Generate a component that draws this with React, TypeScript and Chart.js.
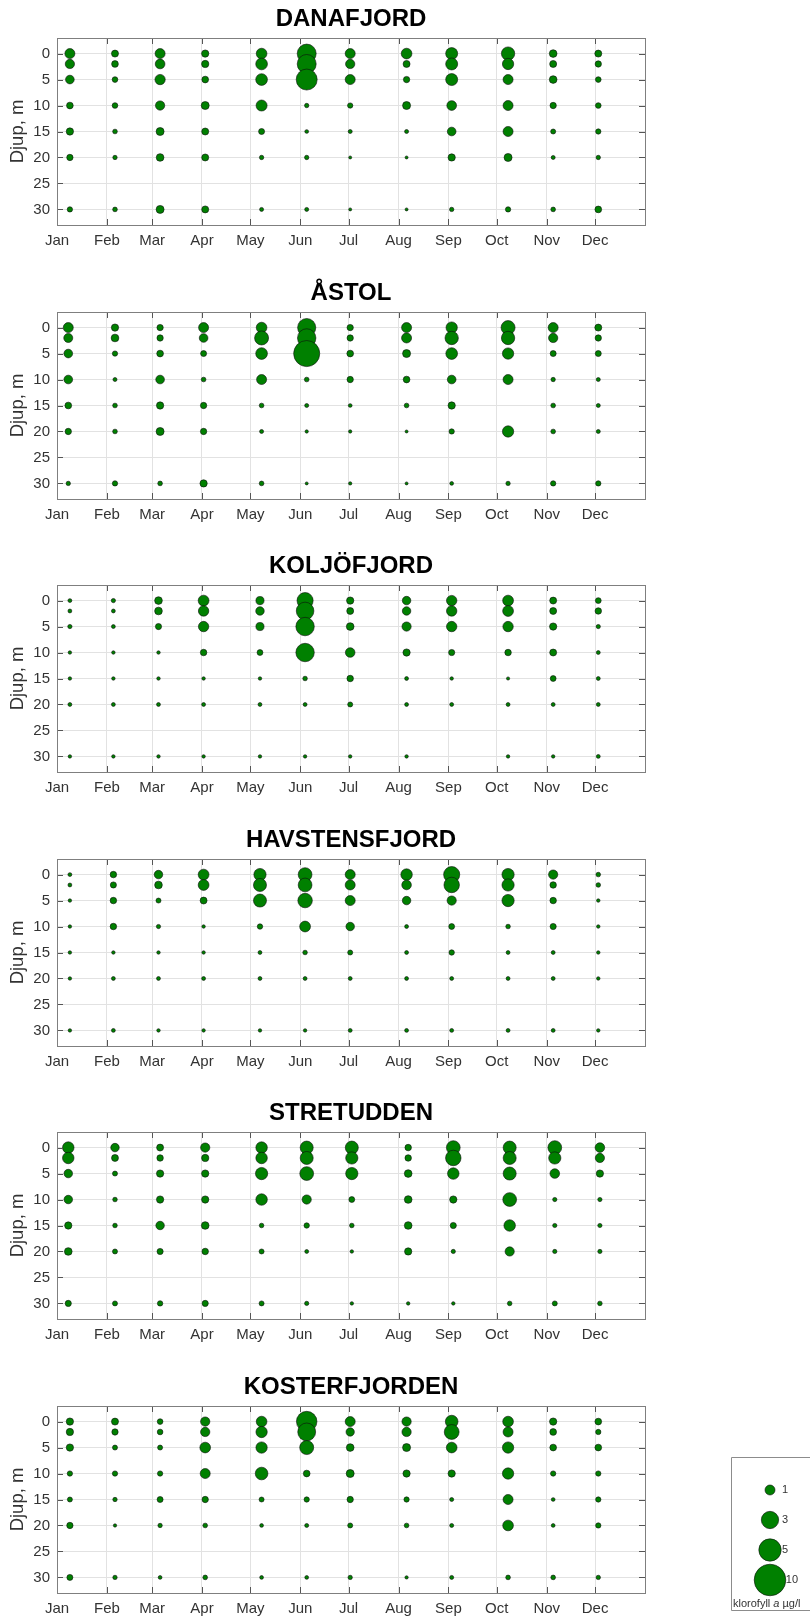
import React, { useEffect, useRef } from "react";
import { Chart, registerables } from "chart.js";

Chart.register(...registerables);

const FONT = '"Liberation Sans", Arial, Helvetica, sans-serif';
Chart.defaults.font.family = FONT;

// ---------- data ----------
const months = ["Jan", "Feb", "Mar", "Apr", "May", "Jun", "Jul", "Aug", "Sep", "Oct", "Nov", "Dec"];
const monthStartDays = [0, 31, 59, 90, 120, 151, 181, 212, 243, 273, 304, 334];
const depths = [0, 2, 5, 10, 15, 20, 30];
const depthTicks = [0, 5, 10, 15, 20, 25, 30];
const legendValues = [1, 3, 5, 10];

const stationNames = ["DANAFJORD", "ÅSTOL", "KOLJÖFJORD", "HAVSTENSFJORD", "STRETUDDEN", "KOSTERFJORDEN"];

// sampling day (days after 1 Jan) for each monthly visit
const danafjordDays = [8, 36, 64, 92, 127, 155, 182, 217, 245, 280, 308, 336];
const astolDays = [7, 36, 64, 91, 127, 155, 182, 217, 245, 280, 308, 336];
const koljofjordDays = [8, 35, 63, 91, 126, 154, 182, 217, 245, 280, 308, 336];
const havstensfjordDays = [8, 35, 63, 91, 126, 154, 182, 217, 245, 280, 308, 336];
const stretuddenDays = [7, 36, 64, 92, 127, 155, 183, 218, 246, 281, 309, 337];
const kosterfjordenDays = [8, 36, 64, 92, 127, 155, 182, 217, 245, 280, 308, 336];

// chlorophyll a (µg/l); one row per month, columns = depths 0,2,5,10,15,20,30 m
const danafjordChl = [
  [1.0, 0.86, 0.75, 0.45, 0.53, 0.4, 0.28],
  [0.49, 0.45, 0.32, 0.32, 0.22, 0.19, 0.22],
  [1.0, 0.94, 1.06, 0.86, 0.64, 0.59, 0.64],
  [0.53, 0.53, 0.45, 0.64, 0.49, 0.49, 0.49],
  [1.14, 1.37, 1.37, 1.21, 0.36, 0.19, 0.16],
  [3.6, 3.6, 4.4, 0.19, 0.14, 0.19, 0.16],
  [1.0, 0.86, 1.0, 0.28, 0.16, 0.09, 0.09],
  [1.14, 0.49, 0.4, 0.64, 0.16, 0.09, 0.09],
  [1.44, 1.44, 1.44, 0.94, 0.75, 0.53, 0.19],
  [1.78, 1.28, 1.0, 1.0, 1.0, 0.64, 0.28],
  [0.59, 0.49, 0.59, 0.4, 0.25, 0.16, 0.22],
  [0.49, 0.4, 0.32, 0.32, 0.28, 0.19, 0.45],
];
const astolChl = [
  [1.0, 0.81, 0.75, 0.75, 0.45, 0.4, 0.19],
  [0.53, 0.59, 0.28, 0.16, 0.22, 0.22, 0.28],
  [0.4, 0.4, 0.45, 0.75, 0.53, 0.64, 0.22],
  [1.0, 0.75, 0.36, 0.22, 0.4, 0.4, 0.53],
  [1.14, 1.96, 1.37, 1.0, 0.22, 0.16, 0.22],
  [3.3, 3.4, 6.8, 0.22, 0.16, 0.11, 0.09],
  [0.4, 0.4, 0.45, 0.4, 0.14, 0.11, 0.11],
  [1.0, 1.0, 0.64, 0.45, 0.22, 0.09, 0.09],
  [1.28, 1.78, 1.37, 0.75, 0.53, 0.28, 0.14],
  [1.96, 1.78, 1.28, 1.0, null, 1.28, 0.19],
  [1.0, 0.86, 0.36, 0.19, 0.22, 0.22, 0.28],
  [0.49, 0.4, 0.36, 0.16, 0.16, 0.16, 0.28],
];
const koljofjordChl = [
  [0.15, 0.15, 0.18, 0.12, 0.12, 0.15, 0.12],
  [0.18, 0.15, 0.15, 0.12, 0.12, 0.15, 0.12],
  [0.59, 0.59, 0.38, 0.12, 0.12, 0.15, 0.12],
  [1.17, 1.08, 1.08, 0.42, 0.12, 0.15, 0.12],
  [0.66, 0.72, 0.66, 0.34, 0.12, 0.15, 0.12],
  [2.6, 3.1, 3.4, 3.4, 0.21, 0.15, 0.12],
  [0.53, 0.48, 0.59, 0.92, 0.42, 0.25, 0.12],
  [0.72, 0.72, 0.85, 0.53, 0.15, 0.15, 0.12],
  [1.08, 1.08, 1.08, 0.38, 0.12, 0.15, null],
  [1.17, 1.17, 1.08, 0.42, 0.1, 0.15, 0.12],
  [0.48, 0.48, 0.53, 0.48, 0.34, 0.15, 0.12],
  [0.34, 0.42, 0.18, 0.15, 0.15, 0.15, 0.15],
];
const havstensfjordChl = [
  [0.15, 0.15, 0.12, 0.12, 0.12, 0.12, 0.12],
  [0.42, 0.38, 0.42, 0.42, 0.12, 0.15, 0.15],
  [0.72, 0.59, 0.25, 0.18, 0.12, 0.15, 0.12],
  [1.17, 1.17, 0.48, 0.12, 0.12, 0.15, 0.12],
  [1.5, 1.7, 1.7, 0.29, 0.15, 0.15, 0.12],
  [1.9, 1.9, 2.1, 1.17, 0.21, 0.15, 0.12],
  [1.0, 1.0, 1.0, 0.72, 0.25, 0.15, 0.15],
  [1.32, 0.92, 0.72, 0.15, 0.15, 0.15, 0.15],
  [2.6, 2.4, 0.85, 0.34, 0.29, 0.15, 0.15],
  [1.5, 1.5, 1.5, 0.21, 0.15, 0.15, 0.15],
  [0.85, 0.42, 0.42, 0.38, 0.15, 0.15, 0.15],
  [0.21, 0.21, 0.12, 0.12, 0.12, 0.12, 0.12],
];
const stretuddenChl = [
  [1.32, 1.32, 0.72, 0.72, 0.53, 0.59, 0.38],
  [0.72, 0.48, 0.25, 0.21, 0.21, 0.25, 0.25],
  [0.48, 0.42, 0.53, 0.53, 0.72, 0.38, 0.29],
  [0.85, 0.53, 0.53, 0.53, 0.59, 0.42, 0.38],
  [1.32, 1.32, 1.5, 1.32, 0.21, 0.25, 0.25],
  [1.7, 1.7, 1.9, 0.85, 0.29, 0.15, 0.18],
  [1.7, 1.5, 1.5, 0.34, 0.21, 0.12, 0.12],
  [0.42, 0.42, 0.59, 0.59, 0.59, 0.53, 0.12],
  [1.9, 2.4, 1.32, 0.53, 0.38, 0.18, 0.12],
  [1.7, 1.7, 1.7, 1.9, 1.32, 0.85, 0.21],
  [1.9, 1.5, 0.92, 0.18, 0.18, 0.18, 0.25],
  [0.92, 0.85, 0.53, 0.18, 0.18, 0.18, 0.21],
];
const kosterfjordenChl = [
  [0.53, 0.53, 0.53, 0.28, 0.25, 0.4, 0.36],
  [0.49, 0.4, 0.25, 0.28, 0.19, 0.11, 0.19],
  [0.32, 0.32, 0.25, 0.28, 0.36, 0.19, 0.14],
  [0.86, 0.86, 1.14, 1.0, 0.4, 0.22, 0.22],
  [1.14, 1.28, 1.28, 1.6, 0.25, 0.14, 0.14],
  [4.2, 3.2, 1.96, 0.45, 0.28, 0.16, 0.14],
  [1.0, 0.69, 0.59, 0.64, 0.4, 0.25, 0.19],
  [0.86, 0.86, 0.64, 0.53, 0.28, 0.22, 0.11],
  [1.6, 2.2, 1.14, 0.53, 0.16, 0.16, 0.16],
  [1.14, 1.0, 1.28, 1.28, 1.0, 1.14, 0.22],
  [0.53, 0.45, 0.45, 0.28, 0.14, 0.14, 0.22],
  [0.45, 0.28, 0.45, 0.28, 0.28, 0.28, 0.19],
];

const stationDays = [danafjordDays, astolDays, koljofjordDays, havstensfjordDays, stretuddenDays, kosterfjordenDays];
const stationChl = [danafjordChl, astolChl, koljofjordChl, havstensfjordChl, stretuddenChl, kosterfjordenChl];

// ---------- styles ----------
const GREEN = "#008000";
const EDGE = "#0d0d0d";
const GRID = "#e2e2e2";
const FRAME = "#7f7f7f";
const TICKMARK = "#555555";
const TEXT = "#333333";
const PANEL_STEP = 273.6;
const CANVAS_W = 702;
const CANVAS_H = 274;
const RADIUS_SCALE = 5; // radius = 5 * sqrt(value) px

const radiusFor = (v: number) => RADIUS_SCALE * Math.sqrt(v);

const decorPlugin = {
  id: "panelDecor",
  afterDraw(chart: any, _args: any, opts: any) {
    const { ctx, chartArea } = chart;
    const { left, right, top, bottom } = chartArea;
    const xs = chart.scales.x;
    const ys = chart.scales.y;
    ctx.save();
    ctx.strokeStyle = TICKMARK;
    ctx.lineWidth = 1;
    ctx.beginPath();
    const tl = 6;
    monthStartDays.forEach((d) => {
      const px = Math.round(xs.getPixelForValue(d)) + 0.5;
      if (px <= left + 1 || px >= right - 1) return;
      ctx.moveTo(px, bottom);
      ctx.lineTo(px, bottom - tl);
      ctx.moveTo(px, top);
      ctx.lineTo(px, top + tl);
    });
    depthTicks.forEach((d) => {
      const py = Math.round(ys.getPixelForValue(d)) + 0.5;
      ctx.moveTo(left, py);
      ctx.lineTo(left + tl, py);
      ctx.moveTo(right, py);
      ctx.lineTo(right - tl, py);
    });
    ctx.stroke();
    ctx.strokeStyle = FRAME;
    ctx.strokeRect(Math.round(left) + 0.5, Math.round(top) + 0.5, Math.round(right - left), Math.round(bottom - top));
    ctx.fillStyle = "#000";
    ctx.font = `bold 24px ${FONT}`;
    ctx.textAlign = "center";
    ctx.textBaseline = "middle";
    ctx.fillText(opts.title, (left + right) / 2, 19);
    ctx.restore();
  },
};

function Panel({ index }: { index: number }) {
  const ref = useRef<HTMLCanvasElement | null>(null);
  useEffect(() => {
    if (!ref.current) return;
    const days = stationDays[index];
    const chl = stationChl[index];
    const points: { x: number; y: number; r: number }[] = [];
    chl.forEach((row, m) => {
      row.forEach((v, k) => {
        if (v === null || v === undefined) return;
        points.push({ x: days[m], y: depths[k], r: radiusFor(v as number) });
      });
    });
    const chart = new Chart(ref.current, {
      type: "bubble",
      data: {
        datasets: [
          {
            data: points,
            backgroundColor: GREEN,
            borderColor: EDGE,
            borderWidth: 0.6,
          },
        ],
      },
      options: {
        responsive: false,
        animation: false,
        events: [],
        layout: { padding: { top: 38, right: 57, left: 0, bottom: 0 } },
        plugins: {
          legend: { display: false },
          tooltip: { enabled: false },
          title: { display: false },
          panelDecor: { title: stationNames[index] },
        } as any,
        scales: {
          x: {
            type: "linear",
            min: 0,
            max: 365,
            afterBuildTicks: (s: any) => {
              s.ticks = monthStartDays.map((v) => ({ value: v }));
            },
            afterFit: (s: any) => {
              s.height = CANVAS_H - 225;
            },
            grid: { color: GRID, drawTicks: false },
            border: { display: false },
            ticks: {
              padding: 7,
              maxRotation: 0,
              autoSkip: false,
              color: TEXT,
              font: { size: 15, family: FONT },
              callback: (v: any) => months[monthStartDays.indexOf(Number(v))] ?? "",
            },
          },
          y: {
            type: "linear",
            reverse: true,
            min: -3,
            max: 33,
            afterBuildTicks: (s: any) => {
              s.ticks = depthTicks.map((v) => ({ value: v }));
            },
            afterFit: (s: any) => {
              s.width = 57;
            },
            grid: { color: GRID, drawTicks: false },
            border: { display: false },
            ticks: {
              padding: 7,
              color: TEXT,
              font: { size: 15, family: FONT },
              callback: (v: any) => String(v),
            },
            title: {
              display: true,
              text: "Djup, m",
              color: TEXT,
              font: { size: 18.5, family: FONT },
              padding: { top: 7, bottom: 0 },
            },
          },
        },
      } as any,
      plugins: [decorPlugin as any],
    });
    return () => chart.destroy();
  }, [index]);
  return (
    <canvas
      ref={ref}
      width={CANVAS_W}
      height={CANVAS_H}
      style={{ position: "absolute", left: 0, top: Math.round(index * PANEL_STEP), display: "block" }}
    />
  );
}

const LEGEND_H = 157;

const legendPlugin = {
  id: "legendDecor",
  afterDraw(chart: any) {
    const { ctx } = chart;
    const ys = chart.scales.y;
    const xs = chart.scales.x;
    ctx.save();
    ctx.strokeStyle = "#8c8c8c";
    ctx.lineWidth = 1;
    ctx.beginPath();
    ctx.moveTo(chart.width + 5, 1.5);
    ctx.lineTo(1.5, 1.5);
    ctx.lineTo(1.5, LEGEND_H - 2.5);
    ctx.lineTo(chart.width + 5, LEGEND_H - 2.5);
    ctx.stroke();
    ctx.fillStyle = TEXT;
    ctx.font = `11px ${FONT}`;
    ctx.textBaseline = "middle";
    ctx.textAlign = "left";
    const cx = xs.getPixelForValue(0.5);
    legendValues.forEach((v, i) => {
      const py = ys.getPixelForValue(i);
      const tx = Math.max(cx + 12, cx + radiusFor(v));
      ctx.fillText(String(v), tx, py);
    });
    let x = 3;
    const y = LEGEND_H - 9;
    ctx.font = `11px ${FONT}`;
    ctx.fillText("klorofyll ", x, y);
    x += ctx.measureText("klorofyll ").width;
    ctx.font = `italic 11px ${FONT}`;
    ctx.fillText("a", x, y);
    x += ctx.measureText("a").width;
    ctx.font = `11px ${FONT}`;
    ctx.fillText(" µg/l", x, y);
    ctx.restore();
  },
};

function Legend() {
  const ref = useRef<HTMLCanvasElement | null>(null);
  useEffect(() => {
    if (!ref.current) return;
    const chart = new Chart(ref.current, {
      type: "bubble",
      data: {
        datasets: [
          {
            data: legendValues.map((v, i) => ({ x: 0.5, y: i, r: radiusFor(v) })),
            backgroundColor: GREEN,
            borderColor: EDGE,
            borderWidth: 0.6,
          },
        ],
      },
      options: {
        responsive: false,
        animation: false,
        events: [],
        layout: { padding: 0, autoPadding: false },
        plugins: { legend: { display: false }, tooltip: { enabled: false } },
        scales: {
          x: { type: "linear", display: false, min: 0, max: 1 },
          y: { type: "linear", display: false, reverse: true, min: -1.133, max: 4.1 },
        },
      } as any,
      plugins: [legendPlugin as any],
    });
    return () => chart.destroy();
  }, []);
  return (
    <canvas
      ref={ref}
      width={80}
      height={LEGEND_H}
      style={{ position: "absolute", left: 730, top: 1456, display: "block" }}
    />
  );
}

export default function App() {
  return (
    <div
      style={{
        position: "absolute",
        left: 0,
        top: 0,
        width: 810,
        height: 1617,
        overflow: "hidden",
        background: "#ffffff",
      }}
    >
      {stationNames.map((_, i) => (
        <Panel key={i} index={i} />
      ))}
      <Legend />
    </div>
  );
}
